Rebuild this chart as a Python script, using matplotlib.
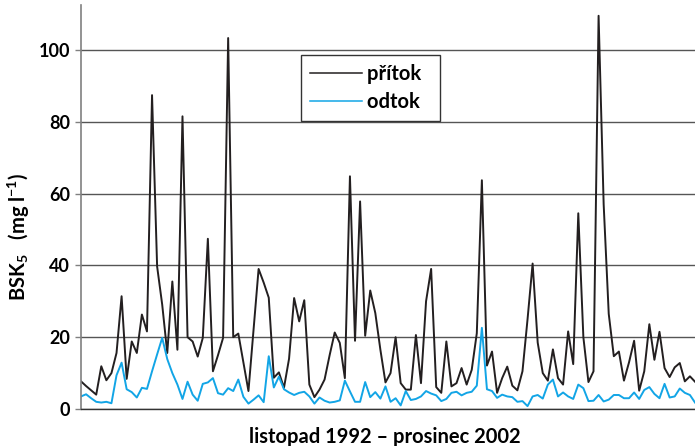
import matplotlib.pyplot as plt
import numpy as np

# BSK5, monthly values, listopad 1992 - prosinec 2002
pritok = [7.7, 6.4, 5.2, 4.0, 11.9, 8.0, 10.0, 15.6, 31.4, 8.4,
          18.8, 15.6, 26.3, 21.6, 87.4, 39.7, 29.1, 15.6, 35.5, 16.5,
          81.5, 20.0, 18.8, 14.6, 19.8, 47.4, 10.5, 15.0, 19.8, 103.3,
          20.0, 21.0, 13.0, 5.0, 22.0, 39.0, 35.2, 31.0, 8.7, 10.2,
          5.9, 14.0, 30.9, 24.4, 30.3, 6.8, 3.3, 5.4, 8.2, 15.0,
          21.3, 18.4, 8.6, 64.8, 19.0, 57.8, 20.4, 33.0, 26.7, 16.5,
          7.4, 10.0, 20.0, 7.2, 5.4, 5.4, 20.6, 7.2, 30.0, 39.0,
          6.1, 4.5, 18.8, 6.3, 7.2, 11.4, 6.8, 10.9, 21.1, 63.7,
          12.1, 16.0, 4.5, 8.6, 11.8, 6.5, 5.2, 10.5, 25.0, 40.5,
          18.5, 10.0, 7.9, 16.6, 8.6, 6.8, 21.6, 12.5, 54.5, 20.0,
          7.5, 10.5, 109.5, 57.0, 26.5, 14.7, 16.0, 7.9, 13.0, 19.0,
          5.1, 10.5, 23.6, 13.7, 21.5, 11.4, 8.9, 11.6, 12.8, 7.7,
          9.1, 7.6]
odtok = [3.5, 4.1, 3.0, 2.0, 1.8, 2.0, 1.6, 9.4, 12.9, 5.5,
         4.7, 3.2, 5.9, 5.6, 10.5, 15.2, 19.8, 13.9, 10.0, 6.8,
         2.8, 7.6, 4.0, 2.3, 7.0, 7.4, 8.6, 4.4, 4.0, 5.8,
         5.0, 8.2, 3.4, 1.5, 2.6, 3.8, 1.9, 14.7, 6.0, 9.0,
         5.5, 4.6, 3.9, 4.5, 4.8, 3.5, 1.5, 3.2, 2.3, 1.8,
         2.0, 2.4, 7.9, 4.9, 2.0, 2.0, 7.5, 3.3, 4.7, 2.9,
         6.3, 2.0, 3.0, 1.0, 5.0, 2.5, 2.8, 3.5, 5.0, 4.3,
         3.8, 2.2, 2.8, 4.5, 4.8, 3.8, 4.5, 4.8, 6.5, 22.6,
         5.5, 5.0, 3.1, 4.0, 3.5, 3.3, 2.0, 2.2, 0.8, 3.5,
         3.9, 2.9, 6.8, 8.2, 3.5, 4.6, 3.5, 2.8, 6.8, 5.8,
         2.2, 2.3, 3.9, 2.1, 2.6, 3.9, 3.9, 3.0, 3.0, 4.6,
         2.8, 5.3, 6.1, 4.2, 3.0, 7.0, 3.2, 3.5, 5.7, 4.5,
         3.9, 1.8]
yticks = [0, 20, 40, 60, 80, 100]

months = np.arange(len(pritok))

plt.rcParams['font.family'] = ['Lato', 'DejaVu Sans']
plt.rcParams['mathtext.fontset'] = 'custom'
plt.rcParams['mathtext.rm'] = 'Lato:bold'
plt.rcParams['mathtext.default'] = 'rm'

fig = plt.figure(figsize=(6.95, 4.46), dpi=100)
ax = fig.add_axes([81 / 695, 37 / 446, 614 / 695, 404 / 446])

ax.plot(months, pritok, color='#231f20', lw=1.4, label='přítok  ')
ax.plot(months, odtok, color='#12a5e6', lw=1.4, label='odtok  ')

ax.set_xlim(0, len(pritok) - 1)
ax.set_ylim(0, 112.5)
ax.set_yticks(yticks)
ax.set_xticks([])
ax.yaxis.grid(True, color='#555555', lw=1.0)
ax.set_axisbelow(True)

for s in ['top', 'right']:
    ax.spines[s].set_visible(False)
ax.spines['left'].set_color('#808080')
ax.spines['left'].set_linewidth(1.2)
ax.spines['bottom'].set_color('#333333')
ax.spines['bottom'].set_linewidth(1.0)
ax.tick_params(axis='y', direction='out', length=4, width=1, color='#808080',
               labelsize=13, pad=4)
for lab in ax.get_yticklabels():
    lab.set_fontweight('bold')

ax.set_ylabel(r'BSK$_5$   (mg l$^{-1}$)', fontsize=14.5, fontweight='bold')
ax.yaxis.set_label_coords(-0.08, 0.427)

fig.text(385 / 695, 1 - 437 / 446, 'listopad 1992 – prosinec 2002',
         ha='center', va='center', fontsize=14.5, fontweight='bold')

leg = ax.legend(loc='upper left', bbox_to_anchor=(0.358, 0.876),
                frameon=True, fancybox=False, edgecolor='#333333',
                framealpha=1, prop={'weight': 'bold', 'size': 14.5},
                handlelength=2.6, handletextpad=0.25, borderpad=0.45,
                labelspacing=0.38, borderaxespad=0)
leg.get_frame().set_linewidth(1.0)
for line in leg.get_lines():
    line.set_linewidth(1.1)

fig.savefig('out.png', dpi=100)
